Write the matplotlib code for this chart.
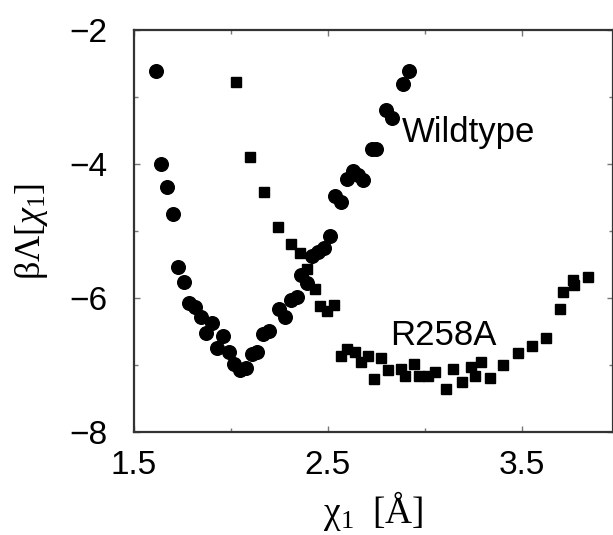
import matplotlib
matplotlib.use("Agg")
from matplotlib import pyplot as plt
from matplotlib.ticker import MultipleLocator

plt.rcParams["font.family"] = ["Liberation Sans", "DejaVu Sans"]
plt.rcParams["mathtext.fontset"] = "custom"
plt.rcParams["mathtext.rm"] = "Liberation Serif"
plt.rcParams["mathtext.it"] = "Liberation Serif:italic"

# DATA ##########################################
wildtype_x = [1.613, 1.639, 1.668, 1.700, 1.725, 1.758, 1.785, 1.814, 1.845, 1.871,
              1.903, 1.926, 1.957, 1.990, 2.017, 2.048, 2.077, 2.107, 2.135, 2.163,
              2.194, 2.249, 2.280, 2.309, 2.340, 2.362, 2.390, 2.419, 2.448, 2.481,
              2.510, 2.536, 2.567, 2.596, 2.627, 2.656, 2.682, 2.725, 2.750, 2.800,
              2.828, 2.885, 2.918]
wildtype_y = [-2.61, -4.00, -4.34, -4.74, -5.53, -5.76, -6.08, -6.14, -6.29, -6.52,
              -6.38, -6.74, -6.56, -6.81, -6.99, -7.07, -7.04, -6.83, -6.80, -6.53,
              -6.49, -6.16, -6.29, -6.03, -5.98, -5.66, -5.78, -5.37, -5.32, -5.26,
              -5.07, -4.47, -4.56, -4.23, -4.10, -4.16, -4.24, -3.78, -3.78, -3.19,
              -3.32, -2.80, -2.61]

r258a_x = [2.026, 2.098, 2.170, 2.244, 2.309, 2.356, 2.390, 2.433, 2.459, 2.494,
           2.531, 2.567, 2.600, 2.639, 2.668, 2.707, 2.739, 2.773, 2.811, 2.876,
           2.897, 2.945, 2.969, 3.017, 3.051, 3.111, 3.146, 3.189, 3.240, 3.257,
           3.287, 3.335, 3.404, 3.481, 3.550, 3.624, 3.696, 3.710, 3.765, 3.770,
           3.842]
r258a_y = [-2.78, -3.89, -4.42, -4.94, -5.19, -5.33, -5.57, -5.87, -6.12, -6.20,
           -6.10, -6.86, -6.76, -6.80, -6.95, -6.87, -7.21, -6.90, -7.07, -7.06,
           -7.16, -6.99, -7.17, -7.17, -7.10, -7.36, -7.06, -7.25, -7.03, -7.16,
           -6.96, -7.20, -7.00, -6.82, -6.71, -6.59, -6.17, -5.91, -5.73, -5.81,
           -5.68]

x_ticks = [1.5, 2.5, 3.5]
y_ticks = [-8, -6, -4, -2]

# PLOT ##########################################
fig = plt.figure(figsize=(6.13, 5.35), dpi=100)
ax = fig.add_axes([0.2186, 0.1925, 0.7814, 0.7514])

ax.plot(wildtype_x, wildtype_y, "o", color="black", markersize=9.8, linestyle="none")
ax.plot(r258a_x, r258a_y, "s", color="black", markersize=7.6, linestyle="none")

ax.text(2.88, -3.67, "Wildtype", fontsize=25, ha="left", va="baseline")
ax.text(2.82, -6.70, "R258A", fontsize=25, ha="left", va="baseline")

ax.set_xlim(1.5, 3.97)
ax.set_ylim(-8, -2)
ax.set_xticks(x_ticks)
ax.set_yticks(y_ticks)
ax.set_xticklabels([str(t) for t in x_ticks])
ax.set_yticklabels(["\u2212" + str(abs(t)) for t in y_ticks])
ax.xaxis.set_minor_locator(MultipleLocator(0.5))
ax.yaxis.set_minor_locator(MultipleLocator(1))

ax.tick_params(which="both", direction="in", top=True, right=True, colors="#777777",
               labelcolor="black", labelsize=24)
ax.tick_params(which="major", length=4, width=1)
ax.tick_params(which="minor", length=3, width=1)
ax.tick_params(axis="x", which="major", pad=13)
ax.tick_params(axis="y", which="major", pad=19)
for s in ax.spines.values():
    s.set_linewidth(1.6)
    s.set_color("#333333")

ax.set_xlabel(r"$\mathrm{\chi}_1\ \ [\mathrm{\AA}]$", fontsize=27, labelpad=6)
ax.set_ylabel(r"$\mathrm{\beta\Lambda}[\chi_1]$", fontsize=26, labelpad=14)

plt.savefig("out.png", dpi=100)
